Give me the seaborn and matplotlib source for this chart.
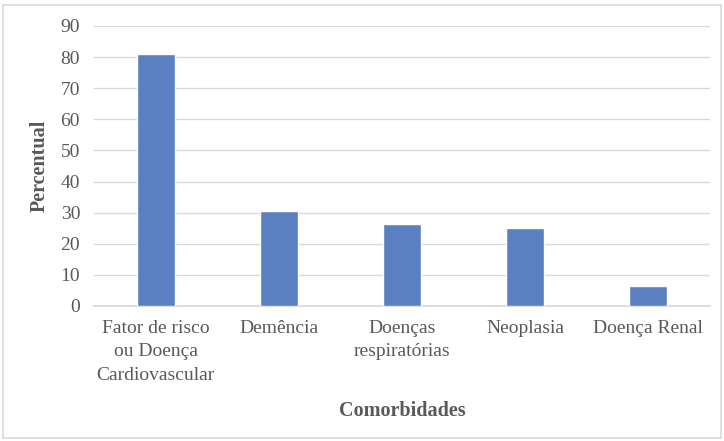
import matplotlib
matplotlib.use("Agg")
import matplotlib.pyplot as plt
import seaborn as sns
import pandas as pd
from matplotlib.patches import Rectangle

categories = ["Fator de risco\nou Doença\nCardiovascular", "Demência",
              "Doenças\nrespiratórias", "Neoplasia", "Doença Renal"]
values = [81, 30.5, 26.5, 25, 6.5]
yticks = [0, 10, 20, 30, 40, 50, 60, 70, 80, 90]

df = pd.DataFrame({"cat": categories, "val": values})

sns.set_theme(style="white")
plt.rcParams['font.family'] = ['Liberation Serif', 'DejaVu Serif']

fig = plt.figure(figsize=(7.24, 4.41), dpi=100)
ax = fig.add_axes([94/724, 1-306/441, (710-94)/724, (306-26)/441])

sns.barplot(data=df, x="cat", y="val", color="#5B80C2", width=0.31,
            saturation=1, ax=ax, zorder=3)

ax.set_ylim(0, 90)
ax.set_yticks(yticks)
ax.set_xlim(-0.5, 4.5)
ax.yaxis.grid(True, color="#D9D9D9", linewidth=1, zorder=0)
ax.set_axisbelow(True)
for s in ["top", "right", "left"]:
    ax.spines[s].set_visible(False)
ax.spines["bottom"].set_color("#D9D9D9")
ax.tick_params(axis="both", length=0, labelsize=14, colors="#595959")
ax.tick_params(axis="y", pad=10)
ax.tick_params(axis="x", pad=10)
for lab in ax.get_xticklabels():
    lab.set_linespacing(1.5)

ax.set_xlabel("Comorbidades", fontsize=14.5, fontweight="bold", color="#595959", labelpad=12)
ax.set_ylabel("Percentual", fontsize=14.5, fontweight="bold", color="#595959", labelpad=8)

fig.patches.append(Rectangle((3/724, 3/441), 718/724, 1-8/441, transform=fig.transFigure,
                             fill=False, edgecolor="#D9D9D9", linewidth=1.2))

fig.savefig("out.png", dpi=100)
